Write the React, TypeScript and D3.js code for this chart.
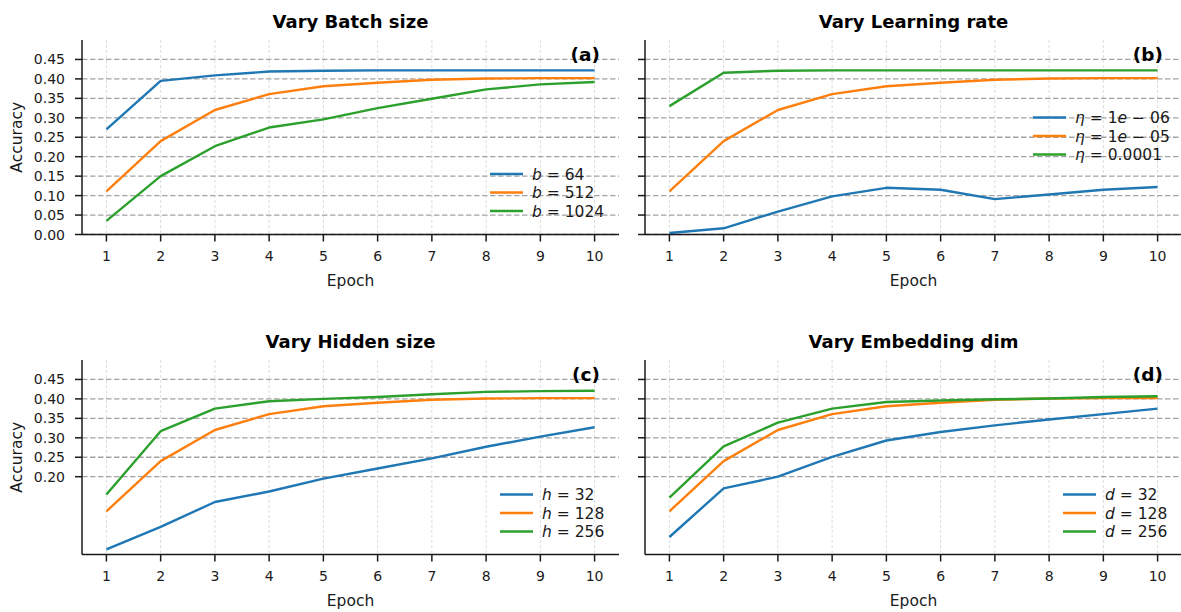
import * as d3 from 'd3'

const epochs = [1, 2, 3, 4, 5, 6, 7, 8, 9, 10]

// shared baseline run (orange in every panel)
const baseline = [0.111, 0.240, 0.320, 0.361, 0.381, 0.390, 0.398, 0.401, 0.402, 0.402]

const batch64 = [0.270, 0.395, 0.409, 0.419, 0.421, 0.422, 0.422, 0.422, 0.422, 0.422]
const batch1024 = [0.035, 0.150, 0.227, 0.275, 0.296, 0.325, 0.349, 0.373, 0.386, 0.392]
const lr1e6 = [0.004, 0.016, 0.059, 0.098, 0.120, 0.115, 0.091, 0.103, 0.115, 0.122]
const lr1e4 = [0.330, 0.416, 0.421, 0.422, 0.422, 0.422, 0.422, 0.422, 0.422, 0.422]
const hidden32 = [0.013, 0.071, 0.135, 0.162, 0.195, 0.221, 0.247, 0.277, 0.303, 0.327]
const hidden256 = [0.154, 0.317, 0.375, 0.394, 0.400, 0.405, 0.412, 0.418, 0.420, 0.421]
const embed32 = [0.045, 0.170, 0.200, 0.251, 0.293, 0.315, 0.332, 0.347, 0.361, 0.375]
const embed256 = [0.146, 0.278, 0.339, 0.375, 0.392, 0.396, 0.399, 0.401, 0.405, 0.407]

const batchLabels = ['b = 64', 'b = 512', 'b = 1024']
const lrLabels = ['η = 1e − 06', 'η = 1e − 05', 'η = 0.0001']
const hiddenLabels = ['h = 32', 'h = 128', 'h = 256']
const embedLabels = ['d = 32', 'd = 128', 'd = 256']

const yTicksFull = [0, 0.05, 0.1, 0.15, 0.2, 0.25, 0.3, 0.35, 0.4, 0.45]
const yTicksUpper = [0.2, 0.25, 0.3, 0.35, 0.4, 0.45]

const colors = ['#1f77b4', '#ff7f0e', '#2ca02c']
const FONT = 'DejaVu Sans, Verdana, sans-serif'
const INK = '#1a1a1a'

const W = 1181
const H = 612
const colLeft = [82, 645]
const rowTop = [40, 360]
const axW = 537
const axH = 194.5

const panels = [
  { title: 'Vary Batch size', tag: '(a)', col: 0, row: 0, series: [batch64, baseline, batch1024], labels: batchLabels, yTicks: yTicksFull, legDx: -129, legDy: 134 },
  { title: 'Vary Learning rate', tag: '(b)', col: 1, row: 0, series: [lr1e6, baseline, lr1e4], labels: lrLabels, yTicks: yTicksFull, legDx: -149, legDy: 77.5 },
  { title: 'Vary Hidden size', tag: '(c)', col: 0, row: 1, series: [hidden32, baseline, hidden256], labels: hiddenLabels, yTicks: yTicksUpper, legDx: -119, legDy: 134.5 },
  { title: 'Vary Embedding dim', tag: '(d)', col: 1, row: 1, series: [embed32, baseline, embed256], labels: embedLabels, yTicks: yTicksUpper, legDx: -119, legDy: 134.5 },
]

// letters go italic, like matplotlib mathtext
function MathLabel({ text }: { text: string }) {
  return (
    <>
      {Array.from(text).map((ch, i) =>
        /[a-zA-Zη]/.test(ch) ? (
          <tspan key={i} fontStyle="italic">{ch}</tspan>
        ) : (
          <tspan key={i}>{ch}</tspan>
        )
      )}
    </>
  )
}

function Panel({ p }: { p: (typeof panels)[number] }) {
  const left = colLeft[p.col]
  const top = rowTop[p.row]
  const right = left + axW
  const bottom = top + axH
  const x = d3.scaleLinear().domain([0.55, 10.45]).range([left, right])
  const y = d3.scaleLinear().domain([0, 0.5]).range([bottom, top])
  const line = d3.line<number>().x((_, i) => x(epochs[i])).y((d) => y(d))
  const fmt = d3.format('.2f')
  const cx = (left + right) / 2

  return (
    <g>
      {/* vertical grid */}
      {epochs.map((e) => (
        <line key={'vg' + e} x1={x(e)} x2={x(e)} y1={top} y2={bottom} stroke="#d6d6d6" strokeWidth={0.8} strokeDasharray="3,2" />
      ))}
      {/* horizontal grid */}
      {p.yTicks.map((t) => (
        <line key={'hg' + t} x1={left} x2={right} y1={y(t)} y2={y(t)} stroke="#a3a3a3" strokeWidth={1.3} strokeDasharray="5.5,2.5" />
      ))}

      {p.series.map((s, i) => (
        <path key={'s' + i} d={line(s) ?? ''} fill="none" stroke={colors[i]} strokeWidth={2.4} strokeLinejoin="round" strokeLinecap="butt" />
      ))}

      {/* spines */}
      <line x1={left} x2={left} y1={top} y2={bottom} stroke={INK} strokeWidth={1.5} />
      <line x1={left} x2={right} y1={bottom} y2={bottom} stroke={INK} strokeWidth={1.5} />

      {/* y ticks */}
      {p.yTicks.map((t) => (
        <g key={'yt' + t}>
          <line x1={left - 7} x2={left} y1={y(t)} y2={y(t)} stroke={INK} strokeWidth={1.5} />
          {p.col === 0 && (
            <text x={left - 17} y={y(t)} dy="0.36em" textAnchor="end" fontSize={14} fill={INK} fontFamily={FONT}>
              {fmt(t)}
            </text>
          )}
        </g>
      ))}
      {/* x ticks */}
      {epochs.map((e) => (
        <g key={'xt' + e}>
          <line x1={x(e)} x2={x(e)} y1={bottom} y2={bottom + 7} stroke={INK} strokeWidth={1.5} />
          <text x={x(e)} y={bottom + 26.5} textAnchor="middle" fontSize={14} fill={INK} fontFamily={FONT}>
            {e}
          </text>
        </g>
      ))}

      <text x={cx} y={bottom + 51} textAnchor="middle" fontSize={15.5} fill={INK} fontFamily={FONT}>
        Epoch
      </text>
      {p.col === 0 && (
        <text transform={`translate(22,${(top + bottom) / 2}) rotate(-90)`} textAnchor="middle" fontSize={15.5} fill={INK} fontFamily={FONT}>
          Accuracy
        </text>
      )}
      <text x={cx} y={top - 12} textAnchor="middle" fontSize={18} fontWeight="bold" fill="#000" fontFamily={FONT}>
        {p.title}
      </text>
      <text x={right - 19} y={top + 21} textAnchor="end" fontSize={18.5} fontWeight="bold" fill="#000" fontFamily={FONT}>
        {p.tag}
      </text>

      {/* legend, no frame */}
      {p.labels.map((lab, i) => {
        const ly = top + p.legDy + i * 18.5
        const lx = right + p.legDx
        return (
          <g key={'lg' + i}>
            <line x1={lx} x2={lx + 33} y1={ly} y2={ly} stroke={colors[i]} strokeWidth={2.4} />
            <text x={lx + 42} y={ly} dy="0.36em" fontSize={15.5} fill={INK} fontFamily={FONT}>
              <MathLabel text={lab} />
            </text>
          </g>
        )
      })}
    </g>
  )
}

export default function App() {
  return (
    <svg width={W} height={H} viewBox={`0 0 ${W} ${H}`} style={{ position: 'absolute', left: 0, top: 0, background: '#fff' }}>
      <rect width={W} height={H} fill="#fff" />
      {panels.map((p) => (
        <Panel key={p.tag} p={p} />
      ))}
    </svg>
  )
}
